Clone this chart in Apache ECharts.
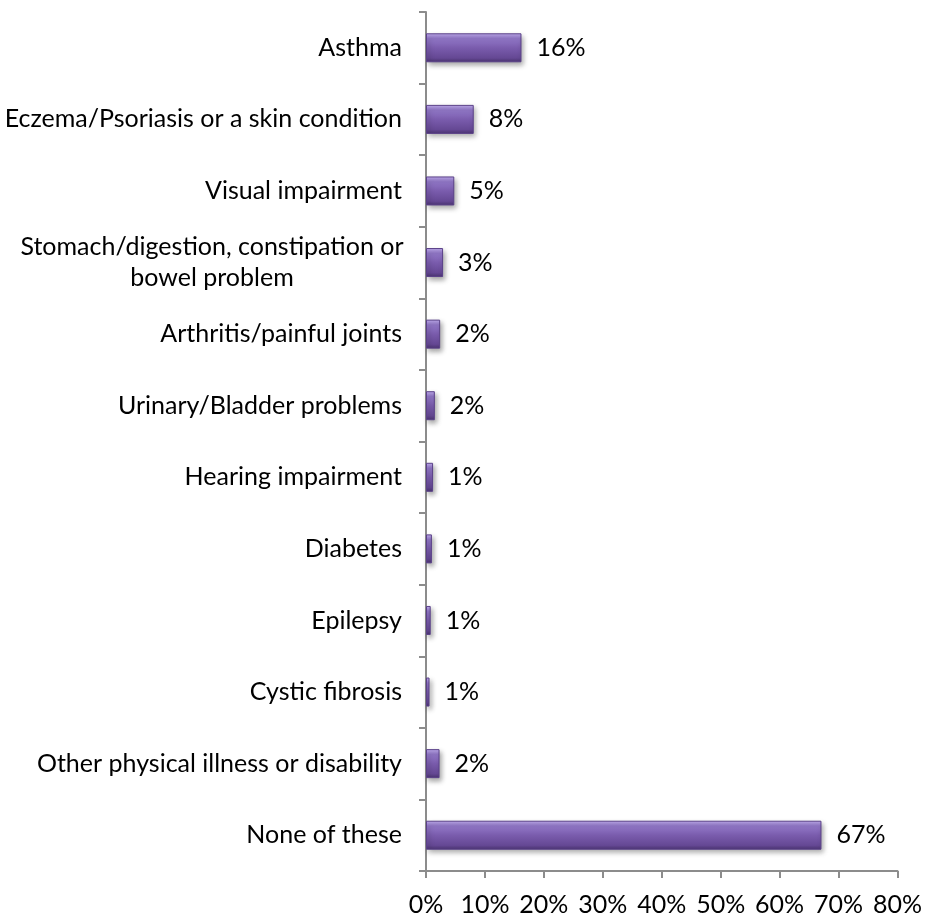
<!DOCTYPE html>
<html>
<head>
<meta charset="utf-8">
<script src="https://cdn.jsdelivr.net/npm/echarts@6/dist/echarts.min.js"></script>
<style>
html,body{margin:0;padding:0;background:#fff;}
#chart{width:925px;height:917px;}
</style>
</head>
<body>
<div id="chart"></div>
<script>
const categories = [
  "Asthma",
  "Eczema/Psoriasis or a skin condition",
  "Visual impairment",
  "Stomach/digestion, constipation or\nbowel problem",
  "Arthritis/painful joints",
  "Urinary/Bladder problems",
  "Hearing impairment",
  "Diabetes",
  "Epilepsy",
  "Cystic fibrosis",
  "Other physical illness or disability",
  "None of these"
];
const values = [16.2, 8.1, 4.8, 2.9, 2.4, 1.5, 1.2, 1.0, 0.8, 0.6, 2.3, 67.1];
const xTicks = [0, 10, 20, 30, 40, 50, 60, 70, 80];

const FONT = 'Lato';
const FS = 25;
const chart = echarts.init(document.getElementById('chart'), null, {renderer: 'canvas'});
chart.setOption({
  animation: false,
  backgroundColor: '#ffffff',
  grid: {left: 426, right: 27, top: 12, bottom: 46, containLabel: false},
  xAxis: {
    type: 'value',
    min: xTicks[0],
    max: xTicks[xTicks.length - 1],
    interval: 10,
    axisLine: {show: true, lineStyle: {color: '#8c8c8c', width: 2}},
    axisTick: {show: true, length: 7, lineStyle: {color: '#8c8c8c', width: 2}},
    splitLine: {show: false},
    axisLabel: {
      formatter: v => v + '%',
      color: '#000', fontFamily: FONT, fontSize: FS, margin: 21
    }
  },
  yAxis: {
    type: 'category',
    data: categories,
    inverse: true,
    axisLine: {show: true, lineStyle: {color: '#8c8c8c', width: 2}},
    axisTick: {show: true, length: 7, lineStyle: {color: '#8c8c8c', width: 2}},
    axisLabel: {
      color: '#000', fontFamily: FONT, fontSize: FS, margin: 24,
      lineHeight: 31,
      formatter: function (v) {
        if (v.indexOf('\n') >= 0) {
          return v.split('\n').map(s => '{w|' + s + '}').join('\n');
        }
        return v;
      },
      rich: {
        w: {width: 380, align: 'center', fontFamily: FONT, fontSize: FS, color: '#000', lineHeight: 31}
      }
    }
  },
  series: [{
    type: 'bar',
    data: values,
    barWidth: 29,
    itemStyle: {
      color: new echarts.graphic.LinearGradient(0, 0, 0, 1, [
        {offset: 0, color: '#c2aef0'},
        {offset: 0.18, color: '#9278c8'},
        {offset: 0.5, color: '#7a5cad'},
        {offset: 0.85, color: '#654894'},
        {offset: 1, color: '#4a3370'}
      ]),
      borderColor: '#5a4088',
      borderWidth: 1,
      shadowColor: 'rgba(0,0,0,0.35)',
      shadowBlur: 5,
      shadowOffsetX: 2,
      shadowOffsetY: 3
    },
    label: {
      show: true,
      position: 'right',
      distance: 15,
      formatter: p => Math.round(p.value) + '%',
      color: '#000', fontFamily: FONT, fontSize: FS
    }
  }]
});
</script>
</body>
</html>
